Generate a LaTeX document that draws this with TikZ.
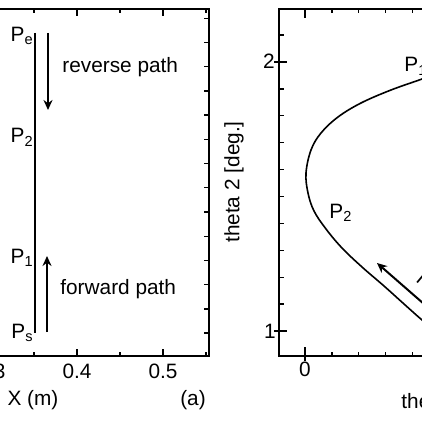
\documentclass[tikz,border=0pt]{standalone}
\usepackage{fontspec}
\setmainfont{Liberation Sans}
\usetikzlibrary{arrows.meta}
\tikzstyle{axis} = [line width=1pt]
\tikzstyle{tick} = [line width=0.7pt]
\tikzstyle{pathline} = [line width=0.8pt]
\tikzstyle{arrow} = [line width=1pt,->,>={Stealth[length=5pt,width=4.5pt]}]
\tikzstyle{lbl} = [inner sep=0pt]

\begin{document}
\begin{tikzpicture}[x=0.5pt,y=-0.5pt,font=\fontsize{10.4}{12}\selectfont]
\useasboundingbox (0,0) rectangle (422,422);
\clip (0,0) rectangle (422,422);

% panel (a): X path
\draw [axis] (-20,9) -| (209,356) -- (-20,356);
\foreach \x/\l in {34/4,77/7,120/4,163/7,206/4} {
  \draw [tick] (\x,356) -- ++(0,-\l);
  \draw [tick] (\x,9) -- ++(0,\l);
}
\foreach \k in {0,...,13}
  \draw [tick] (209,{333-24.2*\k}) -- ++(-5,0);
\node (xa) [lbl, anchor=base] at (-9,378) {0.3};
\node (xb) [lbl, anchor=base] at (77,378) {0.4};
\node (xc) [lbl, anchor=base] at (163,378) {0.5};
\node (xlabel) [lbl, anchor=base] at (33,405) {X (m)};
\node (tagA) [lbl, anchor=base] at (193,405) {(a)};

\coordinate (top) at (35,33);
\coordinate (bot) at (35,333);
\draw [pathline] (top) -- (bot);
\node (Pe) [lbl, anchor=base east] at (34,42) {P\textsubscript{e}};
\node (Ptwo) [lbl, anchor=base east] at (34,143) {P\textsubscript{2}};
\node (Pone) [lbl, anchor=base east] at (34,263) {P\textsubscript{1}};
\node (Ps) [lbl, anchor=base east] at (34,338) {P\textsubscript{s}};

\coordinate (revA) at (48,33);
\coordinate (revB) at (48,110);
\coordinate (fwdA) at (47,332);
\coordinate (fwdB) at (47,256);
\draw [arrow] (revA) -- (revB);
\draw [arrow] (fwdA) -- (fwdB);
\node (revText) [lbl, anchor=base west] at (62,73) {reverse path};
\node (fwdText) [lbl, anchor=base west] at (60,294) {forward path};

% panel (b): joint space
\draw [axis] (440,9) -| (279,356) -- (440,356);
\foreach \k in {0,...,11}
  \draw [tick] (279,{331-26.9*\k}) -- ++(5,0);
\draw [tick] (274,331) -- (287,331);
\draw [tick] (274,62) -- (287,62);
\foreach \k in {1,...,5} {
  \draw [tick] ({305+26.8*\k},356) -- ++(0,-4);
  \draw [tick] ({305+26.8*\k},9) -- ++(0,4);
}
\draw [tick] (305,347) -- (305,361);
\draw [tick] (305,9) -- (305,18);
\node (ya) [lbl, anchor=base] at (269,69) {2};
\node (yb) [lbl, anchor=base] at (270,338) {1};
\node (xd) [lbl, anchor=base] at (305,376) {0};
\node (ylabel) [lbl, rotate=90] at (234,182) {theta 2 [deg.]};
\node (xlabelB) [lbl, anchor=base west] at (401,408) {theta 1 [deg.]};

\draw [pathline] plot [smooth, tension=0.6] coordinates {(440,72) (422,79) (391,90) (361,103) (338,117) (321,133) (311,150) (306,173) (308,193) (314,211) (326,229) (342,248) (362,267) (384,286) (404,304) (422,320) (440,335)};
\node (PtwoB) [lbl, anchor=base west] at (329,218) {P\textsubscript{2}};
\node (PoneB) [lbl, anchor=base west] at (404,72) {P\textsubscript{1}};

\coordinate (backA) at (424,304);
\coordinate (backB) at (377,263);
\draw [arrow] (backA) -- (backB);
\node (backText) [lbl, anchor=base west, rotate=-40] at (415,281) {reverse path};
\end{tikzpicture}
\end{document}
